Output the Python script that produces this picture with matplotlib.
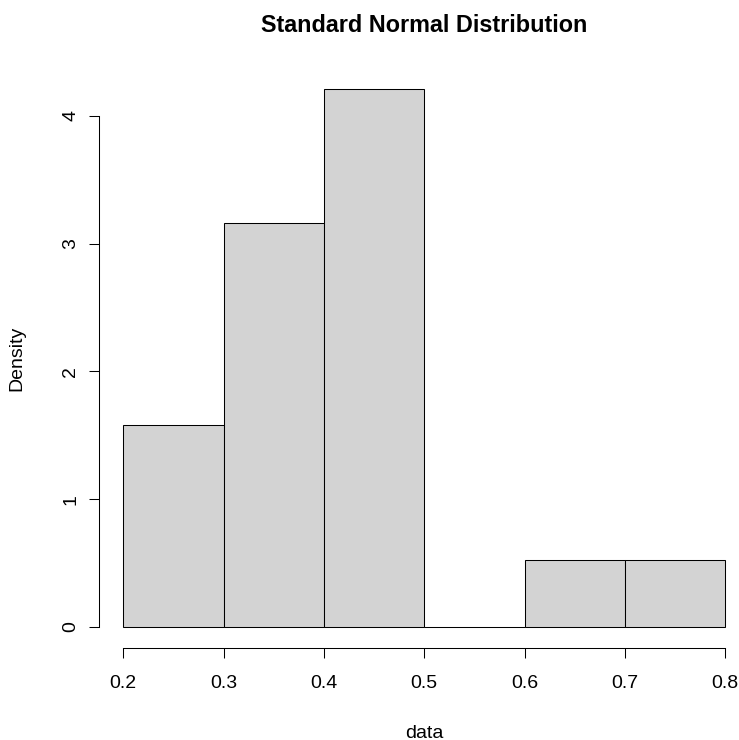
import matplotlib
matplotlib.use("Agg")
import matplotlib.pyplot as plt
import numpy as np

plt.rcParams["font.family"] = ["Liberation Sans", "DejaVu Sans"]

# histogram data (counts per bin, n = 19)
breaks = [0.2, 0.3, 0.4, 0.5, 0.6, 0.7, 0.8]
counts = [3, 6, 8, 0, 1, 1]
x_ticks = [0.2, 0.3, 0.4, 0.5, 0.6, 0.7, 0.8]
y_ticks = [0, 1, 2, 3, 4]

widths = np.diff(breaks)
density = np.array(counts) / (sum(counts) * widths)

W, H = 739, 740
fig = plt.figure(figsize=(W / 100, H / 100), dpi=100)
# R-style plot region (px): left 99.2, bottom 648.3, top 67.6, right beyond image
ax = fig.add_axes([99.2 / W, (H - 648.3) / H, (W - 99.2) / W, (648.3 - 67.6) / H])
ax.set_xlim(0.176, 0.176 + (W - 99.2) / 1003.3)
ax.set_ylim(-0.168, 4.378)

ax.bar(breaks[:-1], density, width=widths, align="edge",
       color="#d3d3d3", edgecolor="black", linewidth=0.75)

for s in ("top", "right"):
    ax.spines[s].set_visible(False)
ax.spines["left"].set_bounds(0, 4)
ax.spines["bottom"].set_bounds(0.2, 0.8)
for s in ("left", "bottom"):
    ax.spines[s].set_linewidth(0.75)

ax.set_xticks(x_ticks)
ax.set_xticklabels([f"{t:.1f}" for t in x_ticks])
ax.set_yticks(y_ticks)
ax.set_yticklabels([str(t) for t in y_ticks], rotation=90, va="center")
ax.tick_params(axis="both", direction="out", length=7.5, width=0.75, labelsize=14)
ax.tick_params(axis="x", pad=11.5)
ax.tick_params(axis="y", pad=7)

fig.text(424 / W, 1 - 26 / H, "Standard Normal Distribution", ha="center", va="center",
         fontsize=16.8, weight="bold")
fig.text(424 / W, 1 - 733 / H, "data", ha="center", va="center", fontsize=14)
fig.text(17 / W, 1 - 358 / H, "Density", ha="center", va="center", fontsize=14, rotation=90)

fig.savefig("out.png", dpi=100)
